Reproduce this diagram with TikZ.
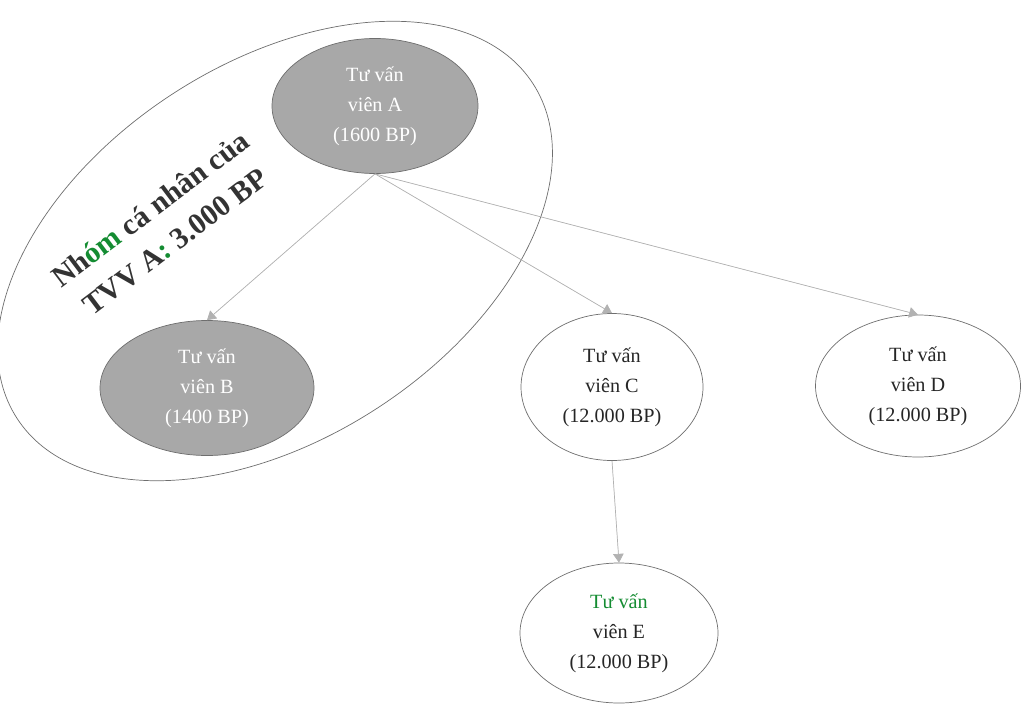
\documentclass[tikz,border=0pt]{standalone}
\usepackage{fontspec}
\setmainfont{Liberation Serif}
\usetikzlibrary{shapes.geometric,arrows.meta}
\definecolor{tvvgray}{RGB}{168,168,168}
\definecolor{tvvline}{RGB}{110,110,110}
\definecolor{tvvgreen}{RGB}{20,140,50}
\begin{document}
\begin{tikzpicture}
  [
    every node/.style = {font = \fontsize{11.5}{17}\selectfont, align = center},
    tvv/.style = {draw = tvvline, ellipse, inner sep = 0pt, text = black!85},
    chosen/.style = {tvv, fill = tvvgray, text = white},
    link/.style = {-{Triangle[width = 6pt, length = 5pt]}, draw = gray!60, fill = gray!60}
  ]
    \useasboundingbox (0,0) rectangle (20.5,14.1);
    \node (grp) [draw = tvvline, ellipse, minimum width = 12.3cm, minimum height = 7.5cm, rotate = 33] at (5.5,9.08) {};
    \node (lbl) [rotate = 37, font = \fontsize{17}{23}\selectfont\bfseries, text = black!80] at (3.25,9.6) {Nh\textcolor{tvvgreen}{óm} cá nhân của\\TVV A\textcolor{tvvgreen}{:} 3.000 BP};
    \node (a) [chosen, minimum width = 4.12cm, minimum height = 2.7cm] at (7.5,11.98) {Tư vấn\\viên A\\(1600 BP)};
    \node (b) [chosen, minimum width = 4.28cm, minimum height = 2.7cm] at (4.14,6.34) {Tư vấn\\viên B\\(1400 BP)};
    \node (c) [tvv, minimum width = 3.64cm, minimum height = 2.94cm] at (12.24,6.36) {Tư vấn\\viên C\\(12.000 BP)};
    \node (d) [tvv, minimum width = 4.1cm, minimum height = 2.84cm] at (18.36,6.38) {Tư vấn\\viên D\\(12.000 BP)};
    \node (e) [tvv, minimum width = 3.96cm, minimum height = 2.8cm] at (12.38,1.44) {\textcolor{tvvgreen}{Tư vấn}\\viên E\\(12.000 BP)};
    \draw [link] (a.south) -- (b.north);
    \draw [link] (a.south) -- (c.north);
    \draw [link] (a.south) -- (d.north);
    \draw [link] (c.south) -- (e.north);
  \end{tikzpicture}
\end{document}
